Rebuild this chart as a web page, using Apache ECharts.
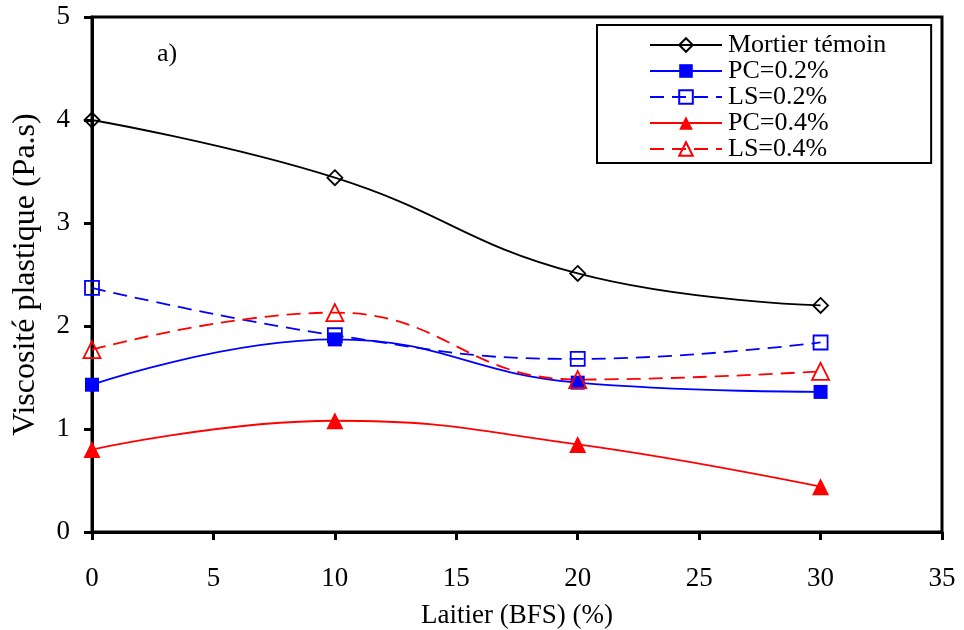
<!DOCTYPE html>
<html><head><meta charset="utf-8">
<script src="https://cdn.jsdelivr.net/npm/echarts@6/dist/echarts.min.js"></script>
<style>html,body{margin:0;padding:0;background:#fff}#c{width:964px;height:630px}</style>
</head><body><div id="c"></div>
<script>
const xValues = [0, 10, 20, 30];
const mortier = [4.00, 3.44, 2.51, 2.20];
const pc02 = [1.43, 1.87, 1.45, 1.36];
const ls02 = [2.37, 1.91, 1.68, 1.84];
const pc04 = [0.80, 1.08, 0.85, 0.44];
const ls04 = [1.77, 2.13, 1.48, 1.56];
const seriesNames = ['Mortier témoin', 'PC=0.2%', 'LS=0.2%', 'PC=0.4%', 'LS=0.4%'];
const xTitle = 'Laitier (BFS) (%)';
const yTitle = 'Viscosité plastique (Pa.s)';

const FONT = 'Liberation Serif';
const pair = arr => xValues.map((x, i) => [x, arr[i]]);
const clear = 'rgba(0,0,0,0)';

function mk(name, data, color, symbol, size, filled, dashed) {
  return {
    name: name, type: 'line', data: pair(data), smooth: 0.45,
    symbol: symbol, symbolSize: size, showAllSymbol: true,
    lineStyle: { color: color, width: 1.8, type: dashed ? [14, 8] : 'solid' },
    itemStyle: { color: filled ? color : clear, borderColor: color, borderWidth: filled ? 0 : 1.8 },
    emphasis: { disabled: true }, z: 3
  };
}

const chart = echarts.init(document.getElementById('c'), null, { renderer: 'canvas' });
chart.setOption({
  animation: false,
  backgroundColor: '#fff',
  grid: { left: 92, right: 22, top: 17, bottom: 98, containLabel: false, outerBoundsMode: 'none',
          show: true, borderColor: '#000', borderWidth: 3, backgroundColor: clear },
  xAxis: {
    type: 'value', min: 0, max: 35, interval: 5,
    name: xTitle, nameLocation: 'middle', nameGap: 70,
    nameTextStyle: { fontFamily: FONT, fontSize: 27, color: '#000' },
    axisLine: { show: true, onZero: false, lineStyle: { color: '#000', width: 3 } },
    axisTick: { show: true, inside: false, length: 8, lineStyle: { color: '#000', width: 3 } },
    axisLabel: { fontFamily: FONT, fontSize: 27, color: '#000', margin: 33 },
    splitLine: { show: false }
  },
  yAxis: {
    type: 'value', min: 0, max: 5, interval: 1,
    name: yTitle, nameLocation: 'middle', nameGap: 50, nameRotate: 90,
    nameTextStyle: { fontFamily: FONT, fontSize: 32, color: '#000' },
    axisLine: { show: true, onZero: false, lineStyle: { color: '#000', width: 3 } },
    axisTick: { show: true, inside: false, length: 8, lineStyle: { color: '#000', width: 3 } },
    axisLabel: { fontFamily: FONT, fontSize: 27, color: '#000', margin: 22 },
    splitLine: { show: false }
  },
  legend: {
    orient: 'vertical', left: 597, top: 25,
    backgroundColor: '#fff', borderColor: '#000', borderWidth: 2,
    padding: [7, 45, 1, 52],
    itemWidth: 72, itemHeight: 17, itemGap: 0,
    textStyle: { fontFamily: FONT, fontSize: 26, color: '#000', lineHeight: 25, padding: [0, 0, 0, 1] },
    data: seriesNames
  },
  graphic: [{
    type: 'text', left: 157, top: 41,
    style: { text: 'a)', font: '26px "Liberation Serif"', fill: '#000' }
  }],
  series: [
    mk(seriesNames[0], mortier, '#000', 'diamond', 15, false, false),
    mk(seriesNames[1], pc02, '#0000ff', 'rect', 14, true, false),
    mk(seriesNames[2], ls02, '#0000ff', 'rect', 14, false, true),
    mk(seriesNames[3], pc04, '#ff0000', 'triangle', 17, true, false),
    mk(seriesNames[4], ls04, '#ff0000', 'triangle', 17, false, true)
  ]
});
</script></body></html>
